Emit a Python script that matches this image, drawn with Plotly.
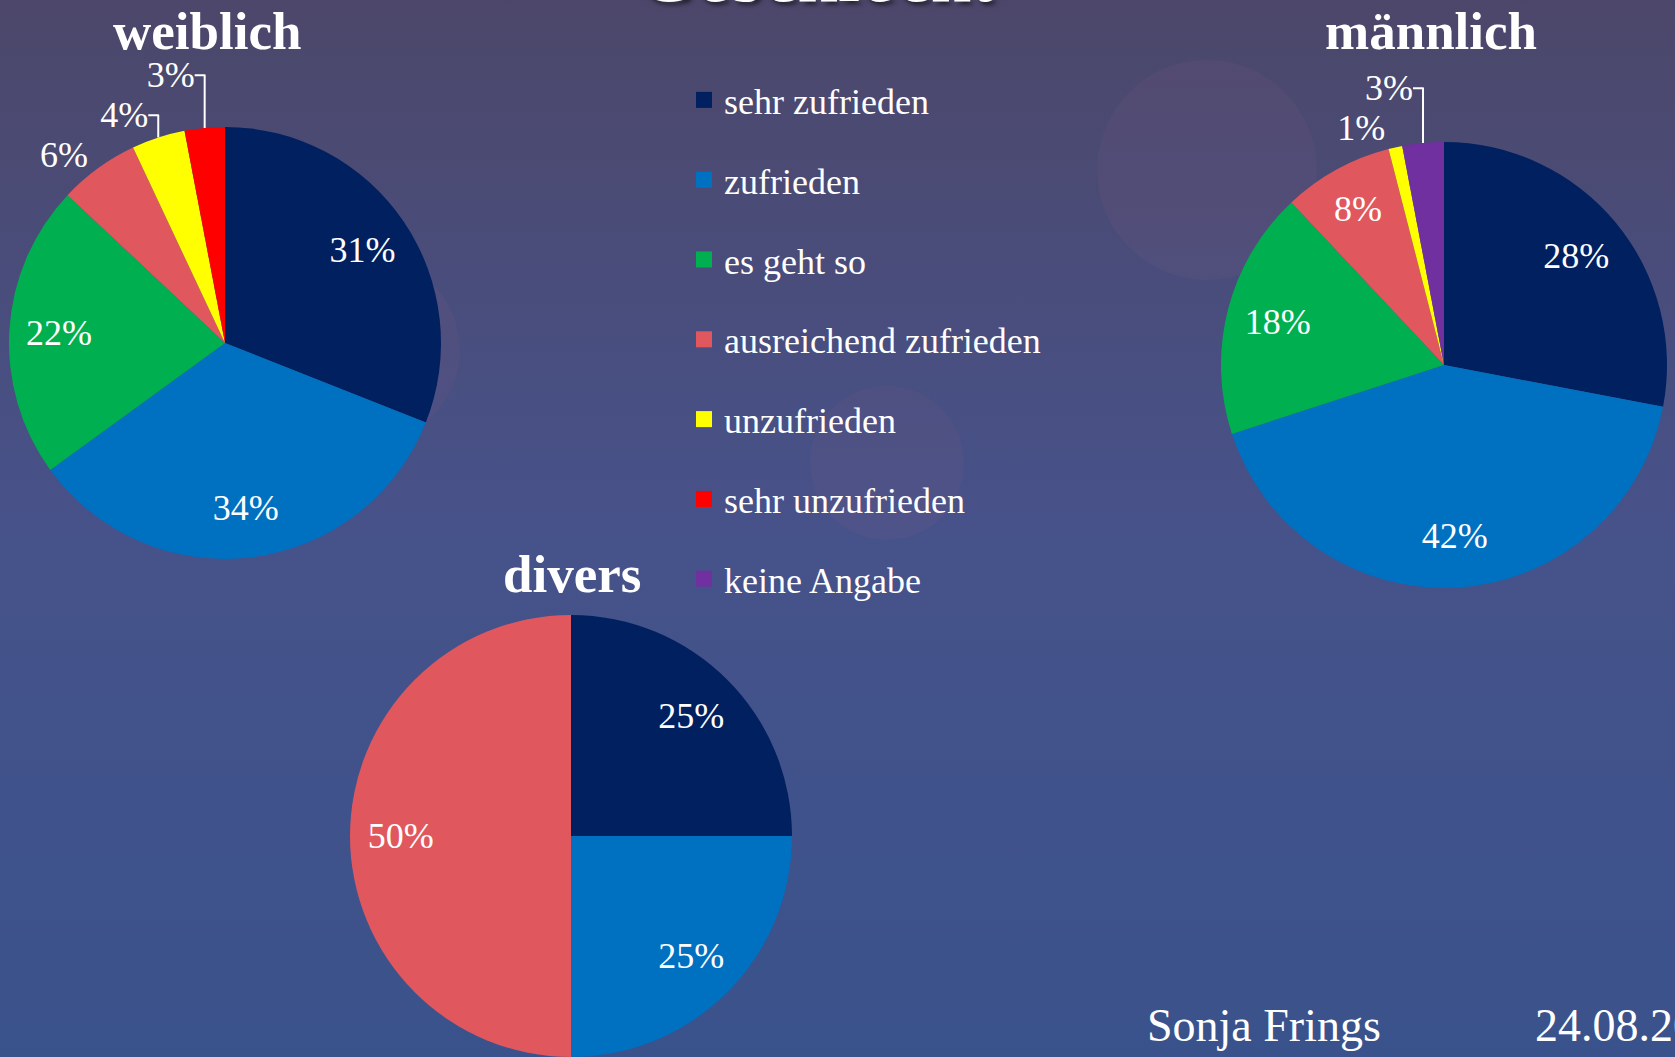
import base64
import plotly.graph_objects as go

# ---------------- data ----------------
categories = ["sehr zufrieden", "zufrieden", "es geht so", "ausreichend zufrieden",
              "unzufrieden", "sehr unzufrieden", "keine Angabe"]
weiblich = [31, 34, 22, 6, 4, 3, 0]
maennlich = [28, 42, 18, 8, 1, 0, 3]
divers = [25, 25, 0, 50, 0, 0, 0]
group_titles = ["weiblich", "männlich", "divers"]
main_title = "Geschlecht"
footer_name = "Sonja Frings"
footer_date = "24.08.20"

# ---------------- styles ----------------
colors = ["#002060", "#0070C0", "#00B050", "#E0585E", "#FFFF00", "#FF0000", "#7030A0"]
pos_w = ["inside", "inside", "inside", "outside", "outside", "outside", "outside"]
pos_m = ["inside", "inside", "inside", "inside", "outside", "outside", "outside"]
pos_d = ["inside"] * 7

W, H = 1675, 1057
FONT = "Palatino Linotype, Book Antiqua, Palatino, Liberation Serif, serif"


def px(x):
    return x / W


def py(y):
    return 1 - y / H


def make_pies(vals, pos, cx, cy, r):
    idx = [i for i, v in enumerate(vals) if v > 0]
    labels = [categories[i] for i in idx]
    values = [vals[i] for i in idx]
    dom = dict(x=[px(cx - r), px(cx + r)], y=[py(cy + r), py(cy - r)])
    slices = go.Pie(
        labels=labels, values=values,
        marker=dict(colors=[colors[i] for i in idx], line=dict(width=0)),
        sort=False, direction="clockwise", rotation=0,
        textinfo="none", domain=dom, showlegend=False,
        hoverinfo="label+percent",
    )
    # transparent ring with same values: carries the percentage labels
    # so that they sit towards the outer part of each slice
    texts = go.Pie(
        labels=labels, values=values,
        marker=dict(colors=["rgba(0,0,0,0)"] * len(idx), line=dict(width=0)),
        sort=False, direction="clockwise", rotation=0, hole=0.54,
        texttemplate="%{percent:.0%}",
        textposition=[pos[i] for i in idx],
        insidetextorientation="horizontal",
        textfont=dict(family=FONT, size=36, color="white"),
        outsidetextfont=dict(family=FONT, size=36, color="white"),
        domain=dom, showlegend=False, hoverinfo="label+percent",
    )
    return [slices, texts]


fig = go.Figure()
for t in make_pies(weiblich, pos_w, 225, 343, 216):
    fig.add_trace(t)
for t in make_pies(maennlich, pos_m, 1444, 365, 223):
    fig.add_trace(t)
for t in make_pies(divers, pos_d, 571, 836, 221):
    fig.add_trace(t)

# legend entries (one group per category for spacing)
for c, col in zip(categories, colors):
    fig.add_trace(go.Scatter(
        x=[None], y=[None], mode="markers", name=c, legendgroup=c,
        marker=dict(symbol="square", size=18, color=col),
        showlegend=True, hoverinfo="skip"))

# background gradient
svg = (
    '<svg xmlns="http://www.w3.org/2000/svg" width="1675" height="1057">'
    '<defs><linearGradient id="g" x1="0" y1="0" x2="0" y2="1">'
    '<stop offset="0" stop-color="#4c476a"/>'
    '<stop offset="0.5" stop-color="#47528a"/>'
    '<stop offset="1" stop-color="#3a528c"/>'
    '</linearGradient></defs>'
    '<rect width="1675" height="1057" fill="url(#g)"/></svg>'
)
bg = "data:image/svg+xml;base64," + base64.b64encode(svg.encode()).decode()

shapes = []
for cx, cy, r in [(1207, 170, 110), (887, 463, 77), (368, 350, 92)]:
    shapes.append(dict(type="circle", xref="paper", yref="paper",
                       x0=px(cx - r), x1=px(cx + r), y0=py(cy + r), y1=py(cy - r),
                       fillcolor="rgba(130,95,130,0.13)", line=dict(width=0),
                       layer="below"))

annotations = [
    dict(text=main_title, x=px(815), y=py(-26), xref="paper", yref="paper",
         showarrow=False, xanchor="center", yanchor="middle",
         font=dict(family=FONT, size=80, color="white",
                   shadow="3px 3px 4px rgba(0,0,0,0.6)")),
    dict(text="<b>%s</b>" % group_titles[0], x=px(207), y=1, xref="paper", yref="paper",
         showarrow=False, xanchor="center", yanchor="top",
         font=dict(family=FONT, size=53, color="white")),
    dict(text="<b>%s</b>" % group_titles[1], x=px(1431), y=1, xref="paper", yref="paper",
         showarrow=False, xanchor="center", yanchor="top",
         font=dict(family=FONT, size=53, color="white")),
    dict(text="<b>%s</b>" % group_titles[2], x=px(572), y=py(574), xref="paper", yref="paper",
         showarrow=False, xanchor="center", yanchor="middle",
         font=dict(family=FONT, size=53, color="white")),
    dict(text=footer_name, x=px(1264), y=py(1025), xref="paper", yref="paper",
         showarrow=False, xanchor="center", yanchor="middle",
         font=dict(family=FONT, size=46, color="white")),
    dict(text=footer_date, x=px(1533), y=py(1025), xref="paper", yref="paper",
         showarrow=False, xanchor="left", yanchor="middle",
         font=dict(family=FONT, size=46, color="white")),
]

fig.update_layout(
    width=W, height=H,
    margin=dict(l=0, r=0, t=0, b=0),
    paper_bgcolor="#44507e", plot_bgcolor="rgba(0,0,0,0)",
    images=[dict(source=bg, xref="paper", yref="paper", x=0, y=1, sizex=1, sizey=1,
                 sizing="stretch", xanchor="left", yanchor="top", layer="below")],
    shapes=shapes,
    annotations=annotations,
    xaxis=dict(visible=False), yaxis=dict(visible=False),
    legend=dict(x=px(684), y=py(70), xanchor="left", yanchor="top",
                font=dict(family=FONT, size=36, color="white"),
                bgcolor="rgba(0,0,0,0)", tracegroupgap=30, itemsizing="trace"),
)

fig.write_html(
    "out.html",
    config={"displayModeBar": False},
    post_script="document.body.style.margin='0';document.body.style.overflow='hidden';",
)
